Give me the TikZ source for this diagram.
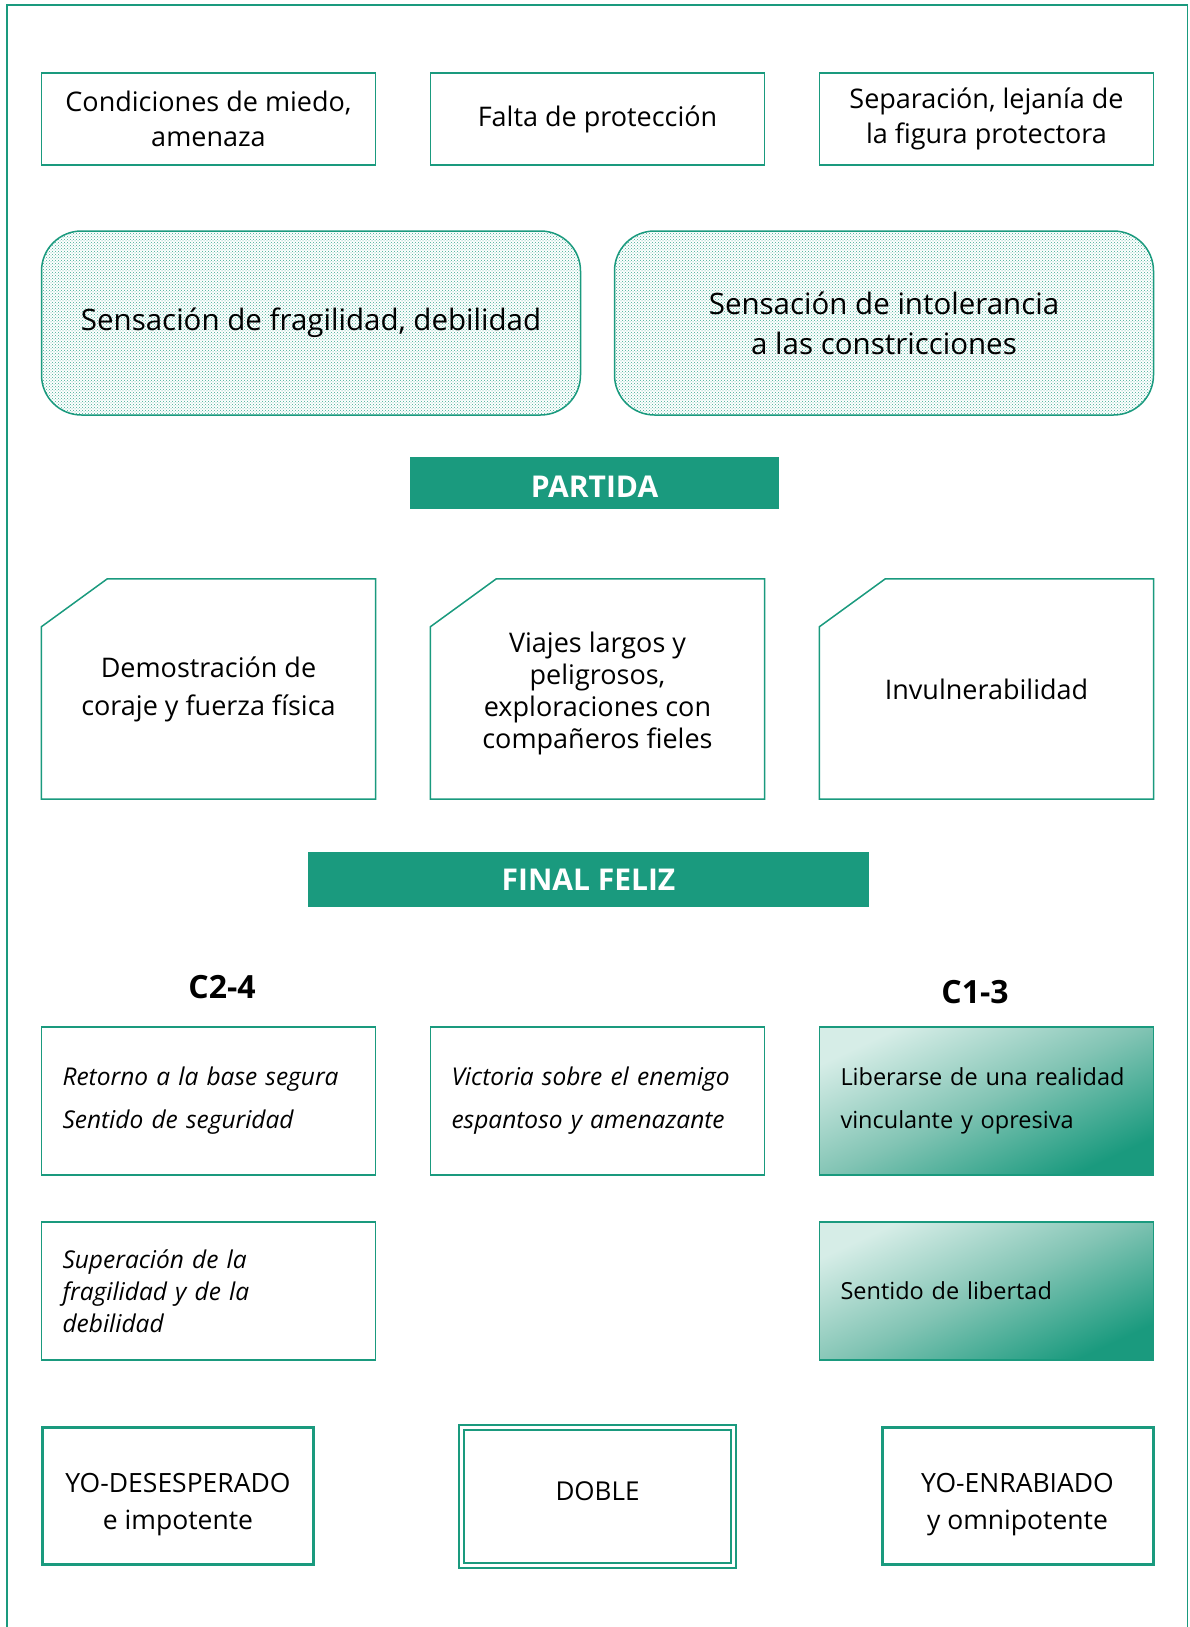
\documentclass[tikz,border=0pt]{standalone}
\usepackage{fontspec}
\setmainfont{Open Sans}
\usetikzlibrary{patterns}

\definecolor{verde}{RGB}{26,154,126}
\definecolor{verdeclaro}{RGB}{214,237,231}
\definecolor{verdemedio}{RGB}{130,196,180}
\pgfdeclareverticalshading{degr}{100bp}{color(0bp)=(verde); color(25bp)=(verde);
  color(50bp)=(verdemedio); color(75bp)=(verdeclaro); color(100bp)=(verdeclaro)}

\tikzset{
  caja/.style={draw=verde, line width=1.5pt, minimum width=334pt, inner sep=0pt, align=center},
  fila/.style={caja, minimum height=92pt, font=\fontsize{27}{35}\selectfont},
  burbuja/.style={caja, rounded corners=40pt, minimum width=539pt, minimum height=184pt,
    pattern=crosshatch dots, pattern color=verde!85, font=\fontsize{29.5}{40}\selectfont},
  barra/.style={fill=verde, text=white, inner sep=0pt, font=\bfseries\fontsize{30}{34}\selectfont},
  esquina/.style={minimum width=334pt, minimum height=220pt, inner sep=0pt, align=center,
    font=\fontsize{27}{32}\selectfont},
  texto/.style={caja, minimum height=148pt, text width=292pt, inner xsep=21pt, align=left,
    font=\itshape\fontsize{24.5}{43}\selectfont},
  degradado/.style={texto, font=\fontsize{23.5}{43}\selectfont, shading=degr, shading angle=25},
  ego/.style={caja, line width=3pt, minimum width=271pt, minimum height=137pt,
    font=\fontsize{26.5}{37}\selectfont},
  etiqueta/.style={font=\bfseries\fontsize{32}{36}\selectfont},
  marco/.style={draw=verde, line width=1.5pt}
}

\begin{document}
\begin{tikzpicture}[x=1pt, y=-1pt, node distance=389pt]
    \useasboundingbox (0,0) rectangle (1189,1627);
    \draw[marco] (7,1640) -- (7,5) -- (1187.5,5) -- (1187.5,1640);

    %% condiciones
    \node[fila] (1) at (208.5,119) {Condiciones de miedo,\\amenaza};
    \node[fila, right of=1] (2) {Falta de protección};
    \node[fila, right of=2] (3) {Separación, lejanía de\\la figura protectora};

    %% sensaciones
    \node[burbuja] (4) at (311,323) {Sensación de fragilidad, debilidad};
    \node[burbuja] (5) at (884,323) {Sensación de intolerancia\\a las constricciones};

    \node[barra, minimum width=369pt, minimum height=52pt] (6) at (594.5,483) {\rule{0pt}{29pt}PARTIDA};

    %% aventuras
    \node[esquina] (7) at (208.5,689) {Demostración de\\[6pt]coraje y fuerza física};
    \node[esquina, right of=7] (8) {\rule{0pt}{30pt}Viajes largos y\\peligrosos,\\exploraciones con\\compañeros fieles};
    \node[esquina, right of=8] (9) {Invulnerabilidad};
    \foreach \n in {7,8,9}
      \draw[marco] ([yshift=-48pt]\n.north west) -- ([xshift=66pt]\n.north west)
        -- (\n.north east) -- (\n.south east) -- (\n.south west) -- cycle;

    \node[barra, minimum width=561pt, minimum height=55pt] (10) at (588.5,879.5) {FINAL FELIZ};

    \node[etiqueta] (11) at (222,987) {C2-4};
    \node[etiqueta] (12) at (975,992) {C1-3};

    %% finales
    \node[texto] (13) at (208.5,1101) {Retorno a la base segura\\Sentido de seguridad};
    \node[texto, right of=13] (14) {Victoria sobre el enemigo\\espantoso y amenazante};
    \node[degradado, right of=14] (15) {Liberarse de una realidad\\vinculante y opresiva};
    \node[texto, minimum height=138pt, font=\itshape\fontsize{24.5}{32}\selectfont] (16) at (208.5,1291)
      {Superación de la\\fragilidad y de la\\debilidad};
    \node[degradado, minimum height=138pt] (17) at (986.5,1291) {Sentido de libertad};

    %% yo
    \node[ego] (18) at (178,1496) {\rule{0pt}{37pt}YO-DESESPERADO\\e impotente};
    \node[caja, line width=2pt, double=white, double distance=2.5pt, minimum width=272pt,
      minimum height=138pt, font=\fontsize{26}{30}\selectfont] (19) at (597.5,1496.5)
      {\rule[-10pt]{0pt}{10pt}DOBLE};
    \node[ego] (20) at (1017.5,1496) {\rule{0pt}{37pt}YO-ENRABIADO\\y omnipotente};
\end{tikzpicture}
\end{document}
